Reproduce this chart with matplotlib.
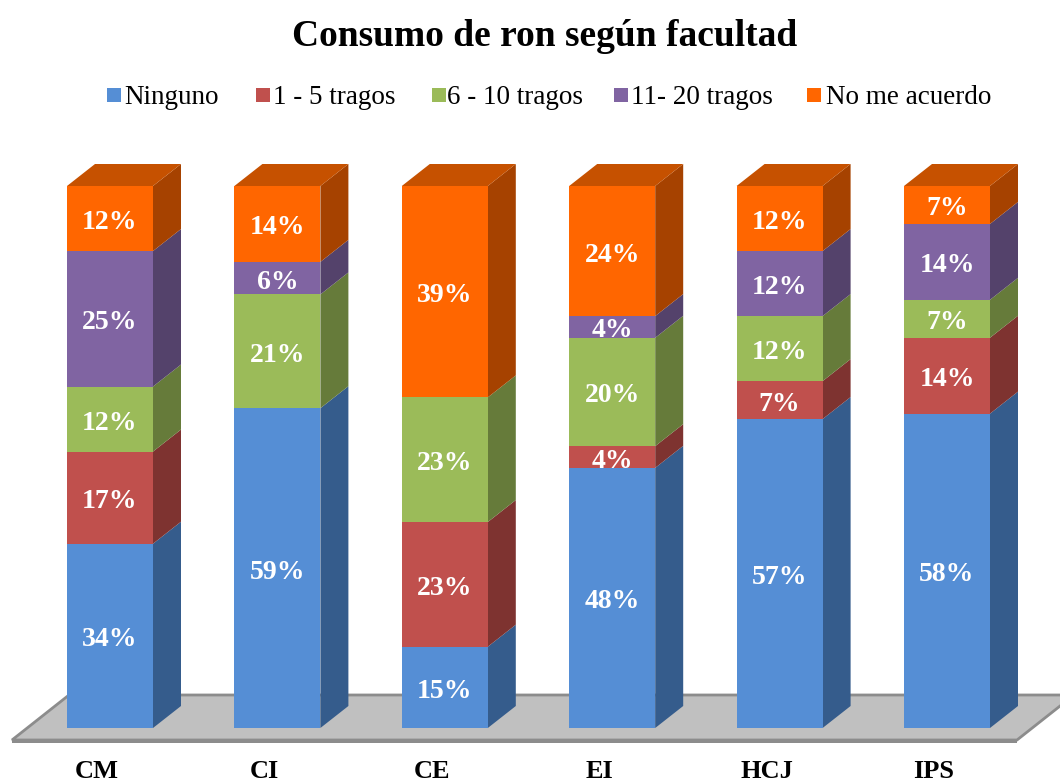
import matplotlib
matplotlib.use("Agg")
import matplotlib.pyplot as plt
from matplotlib.patches import Polygon, Rectangle
import numpy as np

categories = ["CM", "CI", "CE", "EI", "HCJ", "IPS"]
series_names = ["Ninguno", "1 - 5 tragos", "6 - 10 tragos", "11- 20 tragos", "No me acuerdo"]
ninguno = [34, 59, 15, 48, 57, 58]
tragos_1_5 = [17, 0, 23, 4, 7, 14]
tragos_6_10 = [12, 21, 23, 20, 12, 7]
tragos_11_20 = [25, 6, 0, 4, 12, 14]
no_acuerdo = [12, 14, 39, 24, 12, 7]
title = "Consumo de ron según facultad"

series = [ninguno, tragos_1_5, tragos_6_10, tragos_11_20, no_acuerdo]
front_colors = ["#558ED5", "#C0504D", "#9BBB59", "#8064A2", "#FF6600"]
side_colors = ["#355C8C", "#7E3330", "#667B3A", "#54426B", "#A64200"]
top_colors = ["#4A7CBB", "#A04440", "#829E4A", "#6B5488", "#C65100"]

W, H = 1060, 783
fig = plt.figure(figsize=(W / 100, H / 100), dpi=100)
ax = fig.add_axes([0, 0, 1, 1])
ax.set_axis_off()

# pixel mapping: category i center px = 110 + 167.4*i ; value v -> px y = 728 - 5.42*v
sx, x0px = 167.4, 110.0
sy, y0px = 5.42, 728.0
ax.set_xlim((0 - x0px) / sx, (W - x0px) / sx)
ax.set_ylim((y0px - H) / sy, y0px / sy)

bw = 86 / sx
dx = 28 / sx
dy = 22 / sy
txt_shift = 4 / sy

serif = "Liberation Serif"

# floor
f_front = (y0px - 740) / sy
f_back = (y0px - 695) / sy
fl = (12 - x0px) / sx
fr = (1017 - x0px) / sx
fdx = 57 / sx
floor = Polygon([(fl, f_front), (fr, f_front), (fr + fdx, f_back), (fl + fdx, f_back)],
                closed=True, facecolor="#C0C0C0", edgecolor="#8C8C8C", lw=2, zorder=1)
ax.add_patch(floor)
thick = Polygon([(fl, f_front), (fr, f_front), (fr, f_front - 0.55), (fl, f_front - 0.55)],
                closed=True, facecolor="#8C8C8C", edgecolor="none", zorder=1)
ax.add_patch(thick)

xs = np.arange(len(categories))
for i, x in enumerate(xs):
    left = x - bw / 2
    right = x + bw / 2
    bottom = 0.0
    last_nonzero = max(k for k in range(len(series)) if series[k][i] > 0)
    for k, s in enumerate(series):
        v = s[i]
        if v <= 0:
            continue
        top = bottom + v
        side = Polygon([(right, bottom), (right + dx, bottom + dy), (right + dx, top + dy), (right, top)],
                       closed=True, facecolor=side_colors[k], edgecolor="none", zorder=2)
        ax.add_patch(side)
        ax.bar(x, v, width=bw, bottom=bottom, color=front_colors[k], edgecolor="none", zorder=3)
        if k == last_nonzero:
            topf = Polygon([(left, top), (left + dx, top + dy), (right + dx, top + dy), (right, top)],
                           closed=True, facecolor=top_colors[k], edgecolor="none", zorder=2)
            ax.add_patch(topf)
        ax.text(x, bottom + v / 2 - txt_shift, f"{v}%", ha="center", va="center", color="white",
                fontsize=20, fontweight="bold", family=serif, zorder=4)
        bottom = top
    ax.text(x - 13 / sx, (y0px - 772) / sy, categories[i], ha="center", va="center",
            fontsize=19, fontweight="bold", family=serif, color="black", zorder=4)

fig.text(545 / W, 1 - 37 / H, title, ha="center", va="center", fontsize=27,
         fontweight="bold", family=serif)

sq_x = [107, 256, 432, 614, 807]
txt_x = [124, 273, 447, 631, 826]
ly = 95
for k, name in enumerate(series_names):
    fig.patches.append(Rectangle((sq_x[k] / W, 1 - (ly + 7) / H), 14 / W, 14 / H,
                                 transform=fig.transFigure, facecolor=front_colors[k],
                                 edgecolor="none"))
    fig.text(txt_x[k] / W, 1 - (ly + 3) / H, name, ha="left", va="center", fontsize=19.5,
             family=serif)

fig.savefig("out.png", dpi=100)
